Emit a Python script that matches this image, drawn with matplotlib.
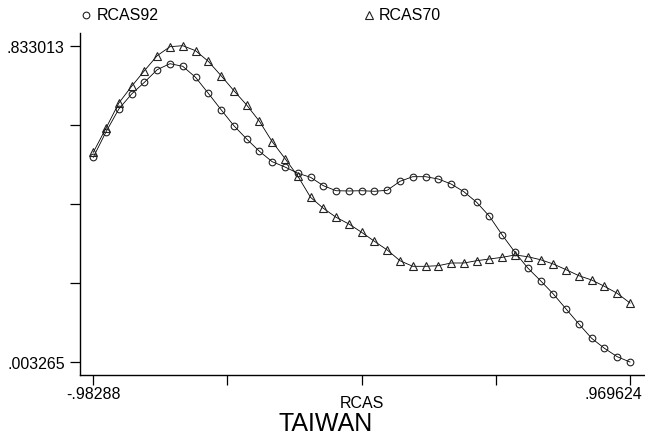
import numpy as np
import matplotlib
matplotlib.use("Agg")
import matplotlib.pyplot as plt
import matplotlib.transforms as mtransforms

# ------------------------
# Datos
# ------------------------
x_min = -0.98288
x_max = 0.969624
y_min = 0.003265
y_max = 0.833013

rcas = np.linspace(x_min, x_max, 43)

rcas92 = [0.5403, 0.6074, 0.6670, 0.7063, 0.7370, 0.7701, 0.7858, 0.7790, 0.7501,
          0.7081, 0.6651, 0.6232, 0.5883, 0.5560, 0.5287, 0.5148, 0.4985, 0.4878,
          0.4658, 0.4526, 0.4519, 0.4526, 0.4511, 0.4537, 0.4773, 0.4894, 0.4894,
          0.4833, 0.4702, 0.4500, 0.4222, 0.3855, 0.3364, 0.2910, 0.2499, 0.2165,
          0.1817, 0.1423, 0.1030, 0.0654, 0.0392, 0.0172, 0.003265]

rcas70 = [0.5534, 0.6171, 0.6827, 0.7265, 0.7674, 0.8068, 0.8304, 0.833013, 0.8199,
          0.7921, 0.7543, 0.7150, 0.6775, 0.6347, 0.5812, 0.5371, 0.4912, 0.4353,
          0.4065, 0.3829, 0.3653, 0.3435, 0.3199, 0.2971, 0.2690, 0.2543, 0.2543,
          0.2559, 0.2630, 0.2630, 0.2690, 0.2735, 0.2779, 0.2840, 0.2795, 0.2716,
          0.2603, 0.2454, 0.2297, 0.2184, 0.2018, 0.1835, 0.1580]

x_ticks = np.linspace(x_min, x_max, 5)
y_ticks = np.linspace(y_min, y_max, 5)
x_labels = ["-.98288", "", "", "", ".969624"]
y_labels = [".003265", "", "", "", ".833013"]

# ------------------------
# Gráfico
# ------------------------
plt.rcParams['font.family'] = ['Liberation Sans', 'DejaVu Sans']

fig = plt.figure(figsize=(6.45, 4.39), dpi=100)
ax = fig.add_axes([80 / 645, 1 - 376 / 439, 1 - 80 / 645, (376 - 34) / 439])

estilo = dict(color='black', lw=0.6, mfc='none', mec='#222222', mew=0.8)
ax.plot(rcas, rcas92, marker='o', ms=4.8, **estilo)
ax.plot(rcas, rcas70, marker='^', ms=5.2, **estilo)

ax.set_xlim(-1.03126, 1.02419)
ax.set_ylim(-0.0308, 0.8663)

for lado in ['top', 'right']:
    ax.spines[lado].set_visible(False)
for lado in ['left', 'bottom']:
    ax.spines[lado].set_linewidth(1.0)

ax.set_xticks(x_ticks)
ax.set_xticklabels(x_labels)
ax.set_yticks(y_ticks)
ax.set_yticklabels(y_labels)
ax.tick_params(axis='x', direction='out', length=7, width=0.9, pad=1, labelsize=11.5)
ax.tick_params(axis='y', direction='out', length=7, width=0.9, pad=4, labelsize=11.5)

# la última etiqueta del eje x se corre para caber en la figura
ult = ax.get_xticklabels()[-1]
ult.set_horizontalalignment('right')
ult.set_transform(ult.get_transform() + mtransforms.ScaledTranslation(12 / 100, 0, fig.dpi_scale_trans))

fig.text(362 / 645, 1 - 404 / 439, "RCAS", ha='center', va='center', fontsize=11.5)
fig.text(326 / 645, 1 - 424 / 439, "TAIWAN", ha='center', va='center', fontsize=18)

# Leyenda
fig.lines.append(plt.Line2D([86 / 645], [1 - 16 / 439], transform=fig.transFigure,
                            marker='o', ms=4.8, mfc='none', mec='#222222', mew=0.8, ls='none'))
fig.lines.append(plt.Line2D([369 / 645], [1 - 16 / 439], transform=fig.transFigure,
                            marker='^', ms=5.2, mfc='none', mec='#222222', mew=0.8, ls='none'))
fig.text(97 / 645, 1 - 16 / 439, "RCAS92", ha='left', va='center', fontsize=11.5)
fig.text(379 / 645, 1 - 16 / 439, "RCAS70", ha='left', va='center', fontsize=11.5)

fig.savefig("out.png", dpi=100)
